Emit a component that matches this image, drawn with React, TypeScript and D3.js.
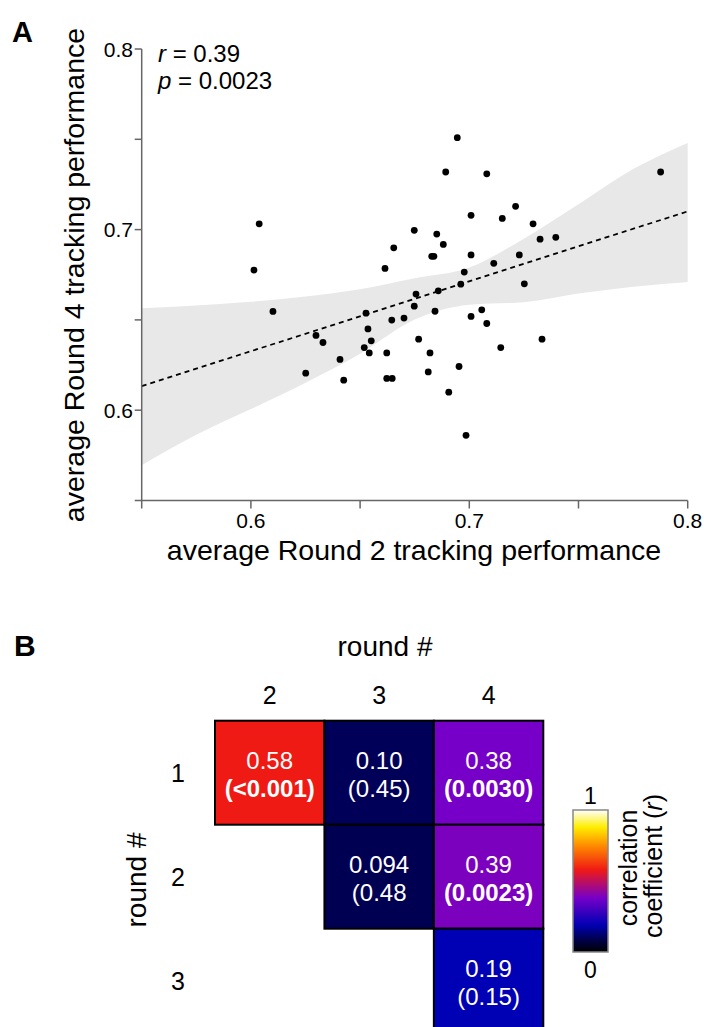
import React from 'react';
import * as d3 from 'd3';

// panel A: per-subject averages (Round 2 vs Round 4)
const round2Perf = [
  0.6038, 0.6014, 0.6101, 0.6748, 0.6654, 0.6614, 0.6756, 0.6748, 0.6527, 0.6701,
  0.6945, 0.6892, 0.708, 0.7876, 0.7008, 0.7212, 0.7151, 0.7292, 0.6851, 0.6881,
  0.7324, 0.7396, 0.6828, 0.6838, 0.7008, 0.7112, 0.7229, 0.6977, 0.6961, 0.7252,
  0.6858, 0.6843, 0.6645, 0.7008, 0.7057, 0.6298, 0.633, 0.6536, 0.6551, 0.6519,
  0.6542, 0.6622, 0.6408, 0.6251, 0.6425, 0.6622, 0.6647, 0.6768, 0.708, 0.682,
  0.7144, 0.7333, 0.6812, 0.6953, 0.6906, 0.6985,
];
const round4Perf = [
  0.7032, 0.6776, 0.6547, 0.6996, 0.6899, 0.6785, 0.6643, 0.6576, 0.6537, 0.651,
  0.7509, 0.7319, 0.7309, 0.7319, 0.7079, 0.7129, 0.7062, 0.7032, 0.6975, 0.6918,
  0.6947, 0.6957, 0.6852, 0.6852, 0.686, 0.6813, 0.686, 0.6765, 0.6698, 0.67,
  0.6661, 0.6548, 0.6499, 0.6519, 0.6556, 0.6414, 0.6375, 0.645, 0.6384, 0.6347,
  0.6317, 0.6317, 0.6281, 0.6205, 0.6166, 0.6176, 0.6176, 0.6393, 0.648, 0.6317,
  0.6347, 0.6393, 0.6212, 0.6242, 0.61, 0.5861,
];

// regression line and confidence band
const fitX = [0.55, 0.8];
const fitY = [0.6133, 0.7101];
const bandX = [0.55, 0.575, 0.6, 0.625, 0.65, 0.675, 0.7, 0.725, 0.75, 0.775, 0.8];
const bandUpper = [0.6565, 0.658, 0.66, 0.663, 0.667, 0.673, 0.679, 0.695, 0.714, 0.7335, 0.748];
const bandLower = [0.5695, 0.5864, 0.6006, 0.6152, 0.6313, 0.6502, 0.6584, 0.6598, 0.6646, 0.6684, 0.671];

const axisTicks = [0.55, 0.6, 0.65, 0.7, 0.75, 0.8];
const tickLabels = [0.6, 0.7, 0.8];

// panel B: correlation matrix
const rowRounds = [1, 2, 3];
const colRounds = [2, 3, 4];
const cellRow = [1, 1, 1, 2, 2, 3];
const cellCol = [2, 3, 4, 3, 4, 4];
const cellR = [0.58, 0.1, 0.38, 0.094, 0.39, 0.19];
const cellRText = ['0.58', '0.10', '0.38', '0.094', '0.39', '0.19'];
const cellPText = ['(<0.001)', '(0.45)', '(0.0030)', '(0.48', '(0.0023)', '(0.15)'];
const cellSig = [true, false, true, false, true, false];

// colormap stops
const cmapStops = [0, 0.1, 0.19, 0.38, 0.58, 0.75, 0.88, 1];
const cmapColors = ['#000000', '#000058', '#0000b4', '#7600c8', '#f01a14', '#ff8c00', '#ffee00', '#ffffff'];

const FONT = '"Liberation Sans", Arial, Helvetica, sans-serif';

export default function App() {
  const x = d3.scaleLinear().domain([0.55, 0.8]).range([141.7, 687.7]);
  const y = d3.scaleLinear().domain([0.55, 0.8]).range([500.5, 49]);

  const band = d3.area<number>()
    .x((_, i) => x(bandX[i]))
    .y0((_, i) => y(bandLower[i]))
    .y1((_, i) => y(bandUpper[i]))
    .curve(d3.curveMonotoneX);

  const color = d3.scaleLinear<string>().domain(cmapStops).range(cmapColors).interpolate(d3.interpolateRgb);

  const hx = d3.scaleBand<number>().domain(colRounds).range([215, 543.3]);
  const hy = d3.scaleBand<number>().domain(rowRounds).range([720.7, 1032.7]);

  const cbTop = 810;
  const cbBottom = 952;
  const cb = d3.scaleLinear().domain([0, 1]).range([cbBottom, cbTop]);
  const gradStops = d3.range(0, 1.0001, 0.02);

  const fmt = d3.format('.1f');

  return (
    <div style={{ position: 'absolute', left: 0, top: 0 }}>
      <svg width={704} height={1027} style={{ display: 'block', fontFamily: FONT }}>
        <defs>
          <linearGradient id="cmap" x1="0" y1="1" x2="0" y2="0">
            {gradStops.map((v) => (
              <stop key={v} offset={v} stopColor={color(v)} />
            ))}
          </linearGradient>
        </defs>
        <rect width={704} height={1027} fill="#fff" />

        {/* Panel A */}
        <text x={12} y={42} fontSize={29} fontWeight="bold">A</text>

        <path d={band(bandX) || ''} fill="#e8e8e8" />
        <line x1={x(fitX[0])} y1={y(fitY[0])} x2={x(fitX[1])} y2={y(fitY[1])}
          stroke="#000" strokeWidth={1.8} strokeDasharray="5,4" />
        {round2Perf.map((v, i) => (
          <circle key={i} cx={x(v)} cy={y(round4Perf[i])} r={3.4} fill="#000" />
        ))}

        {/* axes */}
        <line x1={x(0.55)} x2={x(0.8)} y1={y(0.55)} y2={y(0.55)} stroke="#666" strokeWidth={1.5} />
        <line x1={x(0.55)} x2={x(0.55)} y1={y(0.55)} y2={y(0.8)} stroke="#666" strokeWidth={1.5} />
        {axisTicks.map((t) => (
          <g key={t}>
            <line x1={x(t)} x2={x(t)} y1={y(0.55)} y2={y(0.55) + 8} stroke="#666" strokeWidth={1.5} />
            <line x1={x(0.55) - 7} x2={x(0.55)} y1={y(t)} y2={y(t)} stroke="#666" strokeWidth={1.5} />
          </g>
        ))}
        {tickLabels.map((t) => (
          <g key={t} fontSize={21}>
            <text x={x(t)} y={528} textAnchor="middle">{fmt(t)}</text>
            <text x={133} y={y(t) + 7.5} textAnchor="end">{fmt(t)}</text>
          </g>
        ))}
        <text x={414} y={560} fontSize={28.5} textAnchor="middle">average Round 2 tracking performance</text>
        <text transform="translate(84,275) rotate(-90)" fontSize={28.5} textAnchor="middle">average Round 4 tracking performance</text>

        <text x={158} y={62} fontSize={24}><tspan fontStyle="italic">r</tspan> = 0.39</text>
        <text x={158} y={89} fontSize={24}><tspan fontStyle="italic">p</tspan> = 0.0023</text>

        {/* Panel B */}
        <text x={14} y={656} fontSize={30} fontWeight="bold">B</text>
        <text x={385} y={656} fontSize={28} textAnchor="middle">round #</text>
        {colRounds.map((c) => (
          <text key={c} x={hx(c)! + hx.bandwidth() / 2} y={704} fontSize={25} textAnchor="middle">{c}</text>
        ))}
        {rowRounds.map((r) => (
          <text key={r} x={178} y={hy(r)! + hy.bandwidth() / 2 + 9} fontSize={25} textAnchor="middle">{r}</text>
        ))}
        <text transform="translate(146,880) rotate(-90)" fontSize={28} textAnchor="middle">round #</text>

        {cellR.map((v, i) => {
          const cx = hx(cellCol[i])! + hx.bandwidth() / 2;
          const cy = hy(cellRow[i])! + hy.bandwidth() / 2;
          return (
            <g key={i}>
              <rect x={hx(cellCol[i])} y={hy(cellRow[i])} width={hx.bandwidth()} height={hy.bandwidth()}
                fill={color(v)} stroke="#000" strokeWidth={2} />
              <text x={cx} y={cy - 4} fontSize={24} fill="#fff" textAnchor="middle">{cellRText[i]}</text>
              <text x={cx} y={cy + 24} fontSize={24} fill="#fff" textAnchor="middle"
                fontWeight={cellSig[i] ? 'bold' : 'normal'}>{cellPText[i]}</text>
            </g>
          );
        })}

        {/* colour bar */}
        <rect x={573} y={cbTop} width={35} height={cbBottom - cbTop} fill="url(#cmap)" stroke="#888" strokeWidth={1.5} />
        <text x={590.5} y={cb(1) - 6} fontSize={23} textAnchor="middle">1</text>
        <text x={590.5} y={cb(0) + 26} fontSize={23} textAnchor="middle">0</text>
        <text transform="translate(637,868) rotate(-90)" fontSize={25} textAnchor="middle">correlation</text>
        <text transform="translate(662,866) rotate(-90)" fontSize={25} textAnchor="middle">
          coefficient (<tspan fontStyle="italic">r</tspan>)
        </text>
      </svg>
    </div>
  );
}
